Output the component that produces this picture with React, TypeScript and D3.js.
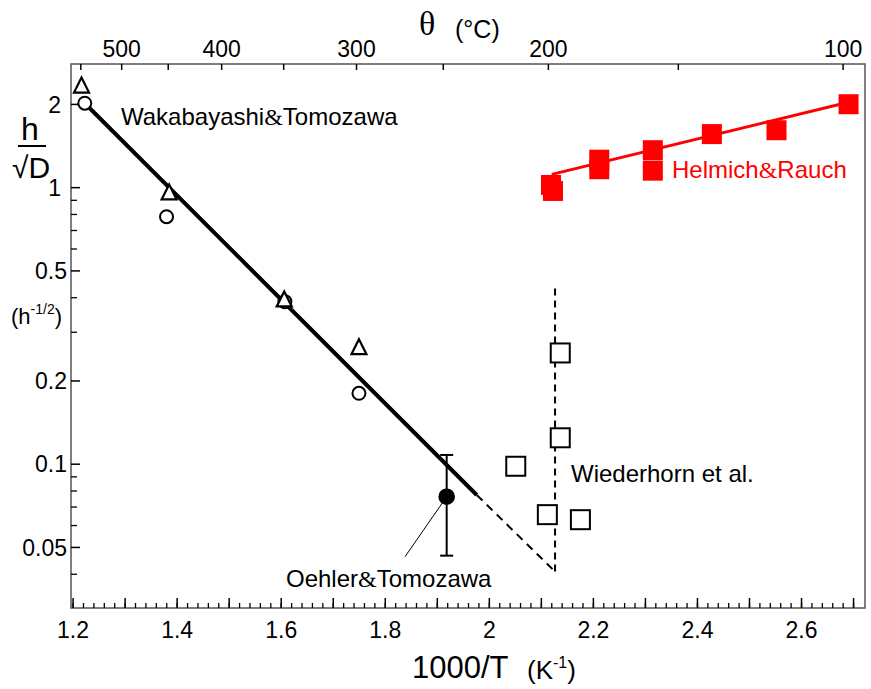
import React from "react";
import * as d3 from "d3";

// Wakabayashi & Tomozawa (open circles and open triangles), fitted line
const wakaCircleX = [1.2225, 1.3796, 1.6071, 1.7494];
const wakaCircleY = [2.02, 0.785, 0.387, 0.1805];
const wakaTriX = [1.2162, 1.3846, 1.6058, 1.7494];
const wakaTriY = [2.35, 0.965, 0.396, 0.266];
const wakaFitX = [1.2225, 1.9758];
const wakaFitY = [2.02, 0.0774];
const extrapX = [1.9758, 2.1263];
const extrapY = [0.0774, 0.0409];

// Wiederhorn et al. (open squares) and their vertical dashed line
const wiederX = [2.1363, 2.1363, 2.0508, 2.1115, 2.175];
const wiederY = [0.2525, 0.1246, 0.0983, 0.0657, 0.063];
const wiederLineX = [2.1263, 2.1263];
const wiederLineY = [0.0409, 0.445];

// Helmich & Rauch (red filled squares) and fit
const helmichX = [2.1185, 2.1223, 2.2113, 2.2113, 2.3142, 2.3142, 2.4277, 2.5519, 2.6904];
const helmichY = [1.023, 0.973, 1.262, 1.166, 1.366, 1.152, 1.562, 1.613, 2.003];
const helmichFitX = [2.12, 2.69];
const helmichFitY = [1.117, 2.035];

// Oehler & Tomozawa (filled circle with error bar)
const oehlerX = [1.918];
const oehlerY = [0.0763];
const oehlerLow = [0.0467];
const oehlerHigh = [0.108];
const oehlerLeaderX = [1.918, 1.838];
const oehlerLeaderY = [0.0763, 0.0463];

// axes
const xTickLabels = [1.2, 1.4, 1.6, 1.8, 2, 2.2, 2.4, 2.6];
const yTickLabels = [0.05, 0.1, 0.2, 0.5, 1, 2];
const yMinorTicks = [0.04, 0.06, 0.07, 0.08, 0.09, 0.3, 0.4, 0.6, 0.7, 0.8, 0.9];
const topTicks = [550, 500, 450, 400, 350, 300, 250, 200, 150, 100];
const topTickLabels = [500, 400, 300, 200, 100];

const W = 871;
const H = 689;
const margin = { top: 64, right: 6, bottom: 81, left: 71 };
const sans = "'Liberation Sans', Arial, sans-serif";
const serif = "'Liberation Serif', 'Times New Roman', serif";

export default function App() {
  const x = d3.scaleLinear().domain([1.196, 2.722]).range([margin.left, W - margin.right]);
  const y = d3.scaleLog().domain([0.0302, 2.8]).range([H - margin.bottom, margin.top]);
  const x0 = margin.left;
  const x1 = W - margin.right;
  const y0 = H - margin.bottom;
  const y1 = margin.top;

  const line = (xs: number[], ys: number[]) =>
    d3.line<number>().x((d) => x(xs[d])).y((d) => y(ys[d]))(d3.range(xs.length)) || "";

  const xMajor = d3.range(1.2, 2.71, 0.1);
  const xMinor = d3.range(1.2, 2.71, 0.02);
  const theta = (c: number) => x(1000 / (c + 273.15));

  const tri = (cx: number, cy: number) => {
    const w = 15, h = 15;
    return `M${cx},${cy - h / 2}L${cx + w / 2},${cy + h / 2}L${cx - w / 2},${cy + h / 2}Z`;
  };

  return (
    <svg width={W} height={H} style={{ position: "absolute", left: 0, top: 0, background: "#fff" }}>
      {/* frame */}
      <rect x={x0} y={y1} width={x1 - x0} height={y0 - y1} fill="none" stroke="#555" strokeWidth={1.5} />

      {/* bottom axis ticks */}
      {xMinor.map((t, i) => (
        <line key={"xm" + i} x1={x(t)} x2={x(t)} y1={y0} y2={y0 - 5} stroke="#000" strokeWidth={1.3} />
      ))}
      {xMajor.map((t, i) => (
        <line key={"xM" + i} x1={x(t)} x2={x(t)} y1={y0} y2={y0 - 10} stroke="#000" strokeWidth={1.5} />
      ))}
      {xTickLabels.map((t) => (
        <text key={"xl" + t} x={x(t)} y={638} textAnchor="middle" fontFamily={sans} fontSize={23}>
          {d3.format("~g")(t)}
        </text>
      ))}

      {/* top axis ticks (°C) */}
      {topTicks.map((c) => (
        <line key={"tt" + c} x1={theta(c)} x2={theta(c)} y1={y1} y2={y1 + 6} stroke="#000" strokeWidth={1.5} />
      ))}
      {topTickLabels.map((c) => (
        <text key={"tl" + c} x={theta(c)} y={57} textAnchor="middle" fontFamily={sans} fontSize={23}>
          {c}
        </text>
      ))}

      {/* left axis ticks */}
      {yMinorTicks.map((t) => (
        <line key={"ym" + t} x1={x0} x2={x0 + 6} y1={y(t)} y2={y(t)} stroke="#000" strokeWidth={1.3} />
      ))}
      {yTickLabels.map((t) => (
        <g key={"yl" + t}>
          <line x1={x0} x2={x0 + 9} y1={y(t)} y2={y(t)} stroke="#000" strokeWidth={1.5} />
          <text
            x={t >= 1 ? x0 - 10 : x0 - 4}
            y={y(t)}
            dy="0.36em"
            textAnchor="end"
            fontFamily={sans}
            fontSize={23}
          >
            {t}
          </text>
        </g>
      ))}

      {/* Helmich & Rauch */}
      <path d={line(helmichFitX, helmichFitY)} fill="none" stroke="#ff0000" strokeWidth={3} />
      {helmichX.map((v, i) => (
        <rect key={"hr" + i} x={x(v) - 10} y={y(helmichY[i]) - 10} width={20} height={20} fill="#ff0000" />
      ))}

      {/* Wakabayashi & Tomozawa */}
      <path d={line(wakaFitX, wakaFitY)} fill="none" stroke="#000" strokeWidth={4} />
      <path d={line(extrapX, extrapY)} fill="none" stroke="#000" strokeWidth={2} strokeDasharray="8,6" />
      {wakaCircleX.map((v, i) => (
        <circle key={"wc" + i} cx={x(v)} cy={y(wakaCircleY[i])} r={6.5} fill="#fff" stroke="#000" strokeWidth={2} />
      ))}
      {wakaTriX.map((v, i) => (
        <path key={"wt" + i} d={tri(x(v), y(wakaTriY[i]))} fill="#fff" stroke="#000" strokeWidth={2.2} />
      ))}

      {/* Wiederhorn */}
      <path d={line(wiederLineX, wiederLineY)} fill="none" stroke="#000" strokeWidth={2} strokeDasharray="7,5" />
      {wiederX.map((v, i) => (
        <rect
          key={"ws" + i}
          x={x(v) - 9.5}
          y={y(wiederY[i]) - 9.5}
          width={19}
          height={19}
          fill="#fff"
          stroke="#000"
          strokeWidth={2}
        />
      ))}

      {/* Oehler & Tomozawa */}
      <path d={line(oehlerLeaderX, oehlerLeaderY)} fill="none" stroke="#000" strokeWidth={1} />
      {oehlerX.map((v, i) => (
        <g key={"oe" + i}>
          <line x1={x(v)} x2={x(v)} y1={y(oehlerLow[i])} y2={y(oehlerHigh[i])} stroke="#000" strokeWidth={2} />
          <line x1={x(v) - 6.5} x2={x(v) + 6.5} y1={y(oehlerLow[i])} y2={y(oehlerLow[i])} stroke="#000" strokeWidth={2} />
          <line x1={x(v) - 6.5} x2={x(v) + 6.5} y1={y(oehlerHigh[i])} y2={y(oehlerHigh[i])} stroke="#000" strokeWidth={2} />
          <circle cx={x(v)} cy={y(oehlerY[i])} r={8.3} fill="#000" />
        </g>
      ))}

      {/* annotations */}
      <text x={121} y={125} fontFamily={sans} fontSize={24}>
        Wakabayashi<tspan fontFamily={serif}>&amp;</tspan>Tomozawa
      </text>
      <text x={672} y={178} fontFamily={sans} fontSize={24} fill="#ff0000">
        Helmich<tspan fontFamily={serif}>&amp;</tspan>Rauch
      </text>
      <text x={571} y={482} fontFamily={sans} fontSize={24}>
        Wiederhorn et al.
      </text>
      <text x={286} y={587} fontFamily={sans} fontSize={24}>
        Oehler<tspan fontFamily={serif}>&amp;</tspan>Tomozawa
      </text>

      {/* axis titles */}
      <text x={419} y={35} fontFamily={serif} fontSize={34}>θ</text>
      <text x={455} y={38} fontFamily={sans} fontSize={25}>(°C)</text>

      <text x={412} y={678} fontFamily={sans} fontSize={31}>1000/T</text>
      <text x={527} y={679} fontFamily={sans} fontSize={26}>
        (K<tspan fontSize={16} dy={-11}>-1</tspan>
        <tspan dy={11}>)</tspan>
      </text>

      <text x={30} y={140} textAnchor="middle" fontFamily={sans} fontSize={32}>h</text>
      <line x1={18} x2={46} y1={146} y2={146} stroke="#000" strokeWidth={2} />
      <text x={12} y={178} fontFamily={sans} fontSize={30}>√D</text>
      <text x={11} y={324} fontFamily={sans} fontSize={22}>
        (h<tspan fontSize={14} dy={-10}>-1/2</tspan>
        <tspan dy={10}>)</tspan>
      </text>
    </svg>
  );
}
